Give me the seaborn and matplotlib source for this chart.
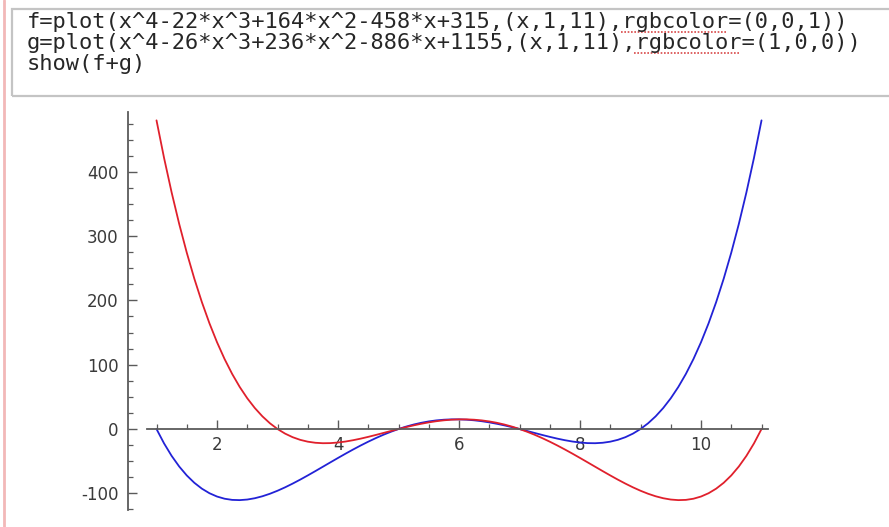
import matplotlib
matplotlib.use("Agg")
import matplotlib.pyplot as plt
from matplotlib.lines import Line2D
from matplotlib.patches import Rectangle
from matplotlib.ticker import FixedLocator
import pandas as pd
import seaborn as sns

# sample points, x from 1 to 11 in steps of 1/8
x_values = [1 + i / 8 for i in range(81)]
f_values = [0.0, -22.41, -41.78, -58.30, -72.19, -83.62, -92.78, -99.85,
            -105.0, -108.40, -110.21, -110.59, -109.69, -107.64, -104.59, -100.67,
            -96.0, -90.71, -84.90, -78.70, -72.19, -65.48, -58.65, -51.80,
            -45.0, -38.32, -31.84, -25.61, -19.69, -14.13, -8.96, -4.25,
            0.0, 3.75, 6.97, 9.66, 11.81, 13.41, 14.47, 15.00,
            15.0, 14.50, 13.54, 12.13, 10.31, 8.14, 5.66, 2.93,
            0.0, -3.05, -6.15, -9.23, -12.19, -14.95, -17.40, -19.46,
            -21.0, -21.92, -22.09, -21.39, -19.69, -16.84, -12.71, -7.15,
            0.0, 8.90, 19.72, 32.63, 47.81, 65.44, 85.72, 108.84,
            135.0, 164.41, 197.29, 233.84, 274.31, 318.92, 367.91, 421.52,
            480.0]
g_values = [480.0, 421.52, 367.91, 318.92, 274.31, 233.84, 197.29, 164.41,
            135.0, 108.84, 85.72, 65.44, 47.81, 32.63, 19.72, 8.90,
            0.0, -7.15, -12.71, -16.84, -19.69, -21.39, -22.09, -21.92,
            -21.0, -19.46, -17.40, -14.95, -12.19, -9.23, -6.15, -3.05,
            0.0, 2.93, 5.66, 8.14, 10.31, 12.13, 13.54, 14.50,
            15.0, 15.00, 14.47, 13.41, 11.81, 9.66, 6.97, 3.75,
            0.0, -4.25, -8.96, -14.13, -19.69, -25.61, -31.84, -38.32,
            -45.0, -51.80, -58.65, -65.48, -72.19, -78.70, -84.90, -90.71,
            -96.0, -100.67, -104.59, -107.64, -109.69, -110.59, -110.21, -108.40,
            -105.0, -99.85, -92.78, -83.62, -72.19, -58.30, -41.78, -22.41,
            0.0]

x_major = [2, 4, 6, 8, 10]
y_major = [-100, 0, 100, 200, 300, 400]

code_lines = ["f=plot(x^4-22*x^3+164*x^2-458*x+315,(x,1,11),rgbcolor=(0,0,1))",
              "g=plot(x^4-26*x^3+236*x^2-886*x+1155,(x,1,11),rgbcolor=(1,0,0))",
              "show(f+g)"]

W, H = 889, 527
sns.set_style("white")
fig = plt.figure(figsize=(W / 100, H / 100), dpi=100)
fig.patch.set_facecolor("white")


def px(x, y):
    return x / W, 1 - y / H


# notebook cell decoration
fig.add_artist(Line2D([4 / W, 4 / W], [0, 1], color="#f2b8b8", lw=2.0))
x0, y0 = px(12, 96)
fig.add_artist(Rectangle((x0, y0), (W - 12 + 10) / W, 87 / H, transform=fig.transFigure,
                         fill=False, ec="#c4c4c4", lw=1.6))

char_w = 13.2
text_y = [22, 43, 64]
for line, ty in zip(code_lines, text_y):
    tx, tyf = px(27, ty)
    fig.text(tx, tyf, line, family="DejaVu Sans Mono", fontsize=15.8, color="#262626",
             va="center", ha="left")
    idx = line.find("rgbcolor")
    if idx >= 0:
        sx0, sy = px(27 + idx * char_w, ty + 10)
        sx1, _ = px(27 + (idx + 8) * char_w, ty + 10)
        fig.add_artist(Line2D([sx0, sx1], [sy, sy], color="#d84848", lw=1.2,
                              linestyle=(0, (1, 1))))

# plot area
ax = fig.add_axes([100 / W, 7 / H, 700 / W, 415 / H])
ax.set_facecolor("none")
df = pd.DataFrame({"x": x_values, "f": f_values, "g": g_values})
sns.lineplot(data=df, x="x", y="f", ax=ax, color="#2222d6", lw=1.3, sort=False, estimator=None)
sns.lineplot(data=df, x="x", y="g", ax=ax, color="#e0202c", lw=1.3, sort=False, estimator=None)

ax.set_xlim(0.066, 11.636)
ax.set_ylim(-141.5, 503.9)
ax.set_xlabel("")
ax.set_ylabel("")

for s in ["top", "right"]:
    ax.spines[s].set_visible(False)
ax.spines["left"].set_position(("data", 0.53))
ax.spines["left"].set_bounds(-126, 493)
ax.spines["bottom"].set_position(("data", 0))
ax.spines["bottom"].set_bounds(0.84, 11.1)
for s in ["left", "bottom"]:
    ax.spines[s].set_color("#5a5a5a")
    ax.spines[s].set_linewidth(1.3)

ax.set_xticks(x_major)
ax.set_xticklabels([str(v) for v in x_major])
ax.xaxis.set_minor_locator(FixedLocator([1 + 0.5 * i for i in range(21)]))
ax.set_yticks(y_major)
ax.set_yticklabels([str(v) for v in y_major])
ax.yaxis.set_minor_locator(FixedLocator([-125 + 25 * i for i in range(25)]))

ax.tick_params(axis="both", which="both", bottom=True, left=True)
ax.tick_params(axis="both", which="major", direction="in", length=6.5, width=1.0,
               color="#5a5a5a", labelsize=12, labelcolor="#3a3a3a")
ax.tick_params(axis="both", which="minor", direction="in", length=3.5, width=0.9,
               color="#5a5a5a")
ax.tick_params(axis="x", which="major", pad=5)
ax.tick_params(axis="y", which="major", pad=7)

plt.savefig("out.png", dpi=100, facecolor="white")
plt.close()
